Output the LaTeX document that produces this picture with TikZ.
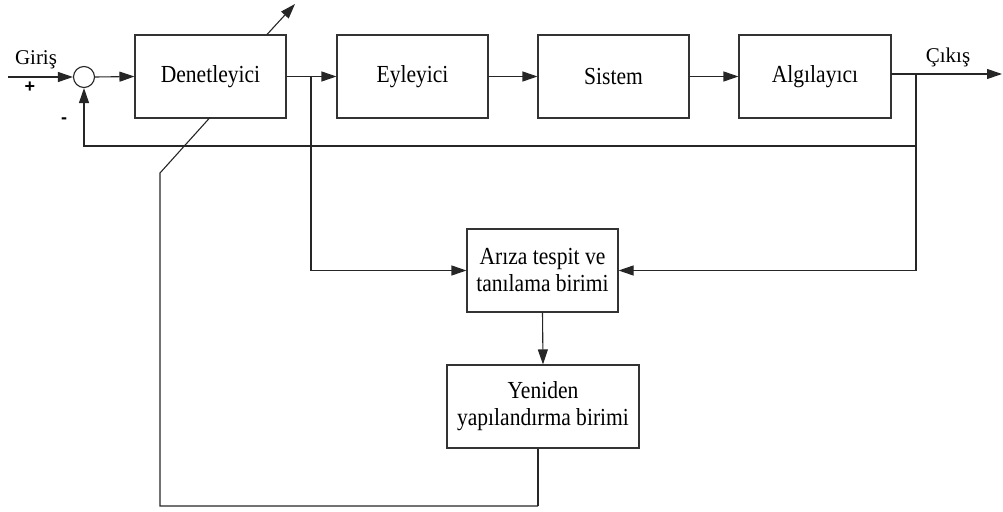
\documentclass[tikz,border=0pt]{standalone}
\usepackage{fontspec}
\setmainfont{Liberation Serif}
\newfontfamily\blockfont[FakeStretch=0.88]{Liberation Serif}
\newfontfamily\signfont{Liberation Sans}
\usetikzlibrary{arrows.meta,calc}

\tikzset{
  wire/.style={line width=1.1pt, draw=black!85},
  sig/.style={wire, -{Triangle[length=15pt,width=10pt]}},
  blockbox/.style={draw=black!80, line width=1.1pt, rectangle, minimum height=83pt,
    align=center, inner sep=2pt, font=\blockfont\fontsize{24.5}{27}\selectfont},
  sumjunction/.style={draw=black!85, line width=1.1pt, circle, minimum size=21pt, inner sep=0pt},
  lbl/.style={font=\fontsize{21}{25}\selectfont, inner sep=0pt},
  signlbl/.style={font=\signfont\bfseries\fontsize{18}{20}\selectfont, inner sep=0pt}
}

\begin{document}
\begin{tikzpicture}[x=1pt, y=-1pt]
  \useasboundingbox (0,0) rectangle (1003,511);

  % forward path blocks
  \node[sumjunction] (sum) at (84,77) {};
  \node[blockbox, minimum width=151pt] (den) at (210.5,76.5) {Denetleyici};
  \node[blockbox, minimum width=151pt] (eyl) at (412.5,76.5) {Eyleyici};
  \node[blockbox, minimum width=151pt] (sis) at (613.5,76.5) {Sistem};
  \node[blockbox, minimum width=152pt] (alg) at (815,76.5) {Algılayıcı};

  % diagnosis and reconfiguration blocks
  \node[blockbox, minimum width=151pt] (ariza) at (542.5,270.5) {Arıza tespit ve\\tanılama birimi};
  \node[blockbox, minimum width=192pt] (yen) at (543,406.5) {Yeniden\\yapılandırma birimi};

  % auxiliary points
  \coordinate (in) at (8,77);
  \coordinate (j1) at (311,77);
  \coordinate (aout) at (891,74);
  \coordinate (j2) at (916,74);
  \coordinate (out) at (1002,74);
  \coordinate (fb) at (916,146);
  \coordinate (rc1) at (538,506);
  \coordinate (rc2) at (160,506);
  \coordinate (rc3) at (160,173);
  \coordinate (rc4) at (210,117.5);
  \coordinate (adj1) at (267,34.5);
  \coordinate (adj2) at (295,4);

  % labels
  \node[lbl] (giris) at (36,60) {Giriş};
  \node[signlbl] (plus) at (30,87) {+};
  \node[signlbl] (minus) at (64,121) {-};
  \node[lbl] (cikis) at (948,57) {Çıkış};

  % forward path
  \draw[sig] (in) -- (sum.west);
  \draw[sig] (sum.east) -- (den.west);
  \draw[sig] (den.east) -- (eyl.west);
  \draw[sig] (eyl.east) -- (sis.west);
  \draw[sig] (sis.east) -- (alg.west);
  \draw[sig] (aout) -- (out);

  % feedback loop
  \draw[sig] (fb) -| (sum.south);
  \draw[wire] (j2) -- (fb);

  % signals into the diagnosis unit
  \draw[sig] (j1) |- (ariza.west);
  \draw[sig] (fb) |- (ariza.east);
  \draw[sig] (ariza.south) -- (yen.north);

  % reconfiguration path back to the controller
  \draw[wire] (rc1) -- (rc2) -- (rc3) -- (rc4);
  \draw[wire] (yen.south -| rc1) -- (rc1);
  \draw[sig] (adj1) -- (adj2);
\end{tikzpicture}
\end{document}
